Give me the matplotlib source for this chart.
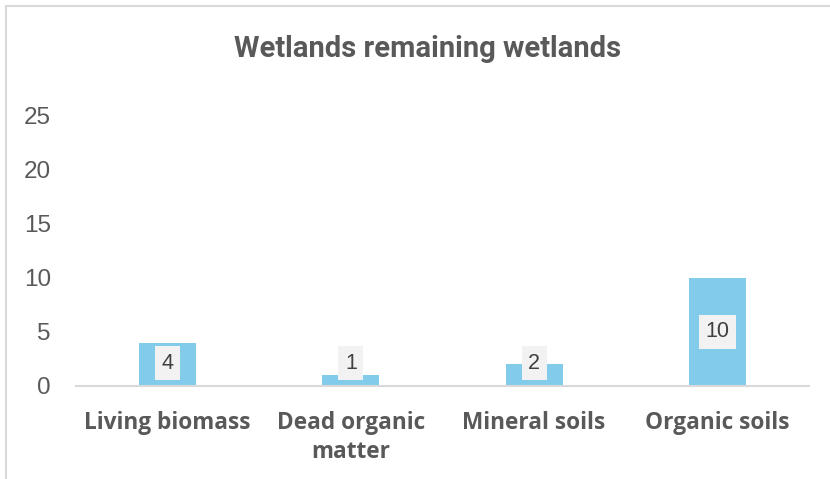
import matplotlib.pyplot as plt
from matplotlib.lines import Line2D

# data
categories = ['Living biomass', 'Dead organic\nmatter', 'Mineral soils', 'Organic soils']
values = [4, 1, 2, 10]
yticks = [0, 5, 10, 15, 20, 25]

W, H = 830, 479
fig = plt.figure(figsize=(W / 100, H / 100), dpi=100)

# frame of the chart area (only left and top edges visible)
fig.add_artist(Line2D([6 / W, 6 / W], [0, 1 - 6 / H], color='#d9d9d9', lw=1.5))
fig.add_artist(Line2D([6 / W, 1], [1 - 6 / H, 1 - 6 / H], color='#d9d9d9', lw=1.5))

ax = fig.add_axes([76 / W, (H - 386) / H, 733 / W, 271 / H])
x = range(len(categories))
ax.bar(x, values, width=0.31, color='#83cbeb', zorder=2)
ax.set_xlim(-0.5, len(categories) - 0.5)
ax.set_ylim(0, 25)

for s in ['top', 'right', 'left']:
    ax.spines[s].set_visible(False)
ax.spines['bottom'].set_color('#d9d9d9')
ax.spines['bottom'].set_linewidth(1.5)

ax.set_yticks(yticks)
ax.set_yticklabels([str(t) for t in yticks], fontsize=17.5, color='#595959',
                   family=['Liberation Sans', 'DejaVu Sans'])
ax.tick_params(axis='y', length=0, pad=18)
ax.set_xticks(list(x))
ax.set_xticklabels(categories, fontsize=16.3, fontweight='bold', color='#595959',
                   family=['Open Sans', 'DejaVu Sans'], linespacing=1.25)
ax.tick_params(axis='x', length=0, pad=18)

# data labels, centred in the bar but kept above the axis
for i, v in enumerate(values):
    ax.text(i, max(v / 2, 2.1), str(v), ha='center', va='center', fontsize=15.5,
            color='#404040', family=['Liberation Sans', 'DejaVu Sans'],
            bbox=dict(boxstyle='square,pad=0.3', fc='#f2f2f2', ec='none'), zorder=3)

fig.text(428 / W, 1 - 49 / H, 'Wetlands remaining wetlands', ha='center', va='center',
         fontsize=21, fontweight='bold', color='#595959',
         family=['Liberation Sans Narrow', 'Roboto', 'DejaVu Sans'])

fig.savefig('out.png', dpi=100)
